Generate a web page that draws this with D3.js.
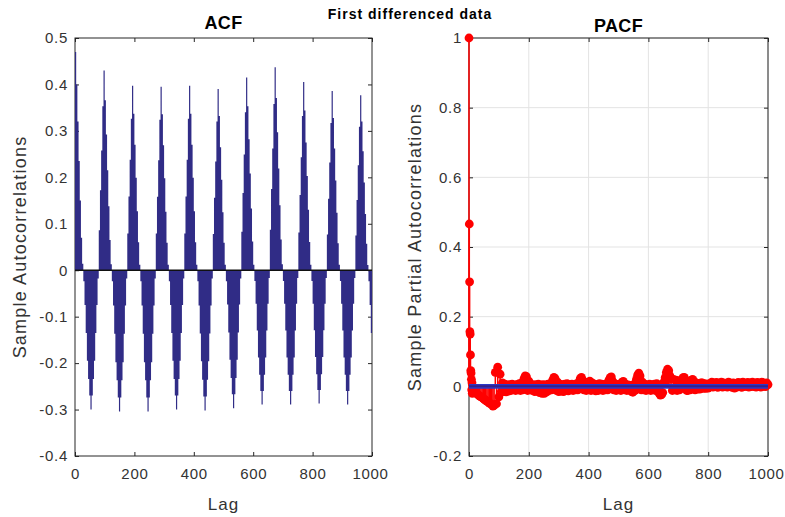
<!DOCTYPE html>
<html>
<head>
<meta charset="utf-8">
<script src="https://cdn.jsdelivr.net/npm/d3@7"></script>
<style>
  body { margin: 0; background: #fff; }
  svg { font-family: "Liberation Sans", Arial, sans-serif; }
  .tick text { fill: #333; font-size: 15px; letter-spacing: 0.7px; }
  .tick line { stroke: #262626; }
</style>
</head>
<body>
<script>
/* ACF: one value every 4 lags, lags 0..1000 */
const acfLagStep = 4;
const acfValues = [
  // lag 0
  .47,.40,.32,.235,.15,.07,.014,-.024,-.075,-.135,-.195,-.234,-.27,-.30,-.27,-.234,-.195,-.135,-.075,-.018,.086,.172,.258,.353,
  // lag 96
  .43,.366,.292,.215,.138,.065,.013,-.024,-.076,-.137,-.198,-.237,-.274,-.304,-.274,-.237,-.198,-.137,-.076,-.018,.079,.159,.238,.326,
  // lag 192
  .397,.337,.27,.199,.127,.06,.012,-.024,-.076,-.137,-.198,-.237,-.274,-.304,-.274,-.237,-.198,-.137,-.076,-.018,.079,.158,.237,.324,
  // lag 288
  .395,.336,.269,.198,.126,.059,.012,-.024,-.075,-.135,-.195,-.234,-.27,-.30,-.27,-.234,-.195,-.135,-.075,-.018,.079,.159,.238,.326,
  // lag 384
  .397,.337,.27,.199,.127,.06,.012,-.024,-.076,-.136,-.196,-.236,-.272,-.302,-.272,-.236,-.196,-.136,-.076,-.018,.078,.156,.234,.32,
  // lag 480
  .39,.332,.265,.195,.125,.059,.012,-.024,-.074,-.134,-.193,-.232,-.267,-.297,-.267,-.232,-.193,-.134,-.074,-.018,.083,.166,.249,.34,
  // lag 576
  .415,.353,.282,.208,.133,.062,.012,-.023,-.072,-.13,-.188,-.225,-.26,-.289,-.26,-.225,-.188,-.13,-.072,-.017,.087,.175,.262,.358,
  // lag 672
  .437,.371,.297,.219,.14,.066,.013,-.023,-.072,-.13,-.188,-.225,-.26,-.289,-.26,-.225,-.188,-.13,-.072,-.017,.081,.162,.243,.332,
  // lag 768
  .405,.344,.275,.203,.13,.061,.012,-.023,-.072,-.129,-.187,-.224,-.258,-.287,-.258,-.224,-.187,-.129,-.072,-.017,.077,.154,.232,.317,
  // lag 864
  .386,.328,.262,.193,.124,.058,.012,-.023,-.072,-.13,-.188,-.225,-.26,-.289,-.26,-.225,-.188,-.13,-.072,-.017,.075,.151,.226,.309,
  // lag 960
  .377,.32,.256,.189,.121,.057,.011,-.024,-.075,-.135,-.195
];

/* PACF: lags 0..11 one by one, then one value every 4 lags from lag 12 */
const pacfEarly = [1, 0.466, 0.30, 0.157, 0.15, 0.09, 0.045, 0.038, 0.02, -0.01, 0.01, -0.02];
const pacfStart = 12;
const pacfLagStep = 4;
const pacfValues = [
  -0.012,-0.015,-0.018,-0.02,-0.022,-0.025,-0.028,-0.03,-0.032,-0.035,
  -0.038,-0.04,-0.043,-0.045,-0.048,-0.05,-0.052,-0.057,-0.055,0.04,
  -0.05,0.055,-0.03,0.035,-0.015,0.01,-0.015,0.006,-0.016,0.004,
  -0.014,0.005,-0.012,0.006,-0.01,0.004,-0.012,0.005,-0.01,0.008,
  -0.012,0.01,-0.01,0.022,0.03,0.028,-0.012,0.015,-0.01,0.006,
  -0.012,0.004,-0.015,0.005,-0.014,0.006,-0.018,0.004,-0.02,0.005,
  -0.02,0.004,-0.016,0.006,-0.012,0.008,-0.01,0.018,0.026,0.022,
  -0.012,0.012,-0.015,0.006,-0.014,0.005,-0.015,0.006,-0.012,0.008,
  -0.013,0.005,-0.01,0.006,-0.012,0.004,-0.01,0.008,-0.01,0.012,
  0.022,0.026,0.018,-0.01,0.012,-0.012,0.008,-0.01,0.015,-0.012,
  0.01,-0.01,0.006,-0.013,0.005,-0.012,0.008,-0.01,0.006,-0.012,
  0.005,-0.01,0.008,-0.01,0.018,0.025,0.027,0.015,-0.01,0.008,
  -0.012,0.005,-0.01,0.006,-0.012,0.012,0.014,-0.01,0.006,-0.012,
  0.004,-0.01,0.003,-0.015,-0.017,0.006,-0.012,0.02,0.032,0.038,
  0.03,-0.01,0.012,-0.01,0.006,-0.012,0.004,-0.01,0.006,-0.012,
  0.005,-0.01,0.006,-0.012,0.008,-0.015,-0.02,-0.025,-0.024,-0.018,
  0.012,0.025,0.04,0.049,0.045,0.03,0.022,-0.012,0.02,-0.01,
  0.018,-0.012,0.015,-0.01,0.012,0.02,0.025,0.026,0.018,-0.012,
  -0.012,0.01,-0.01,0.018,0.02,0.015,-0.01,0.01,-0.008,0.008,
  -0.008,0.01,0.01,-0.006,0.008,-0.006,0.006,-0.005,0.008,0.0,
  0.012,-0.002,0.01,0.0,0.011,-0.003,0.009,0.001,0.012,-0.002,
  0.01,0.0,0.008,-0.002,0.012,-0.001,0.009,-0.003,0.01,-0.005,
  0.008,-0.002,0.011,0.0,0.01,-0.003,0.012,-0.001,0.009,0.0,
  0.011,-0.002,0.01,-0.001,0.012,0.0,0.009,-0.002,0.011,-0.001,
  0.01,-0.002,0.012,0.0,0.009,-0.001,0.01,0.005
];
const pacfBound = 0.004;

const xTicks = [0, 200, 400, 600, 800, 1000];
const acfYTicks = [-0.4, -0.3, -0.2, -0.1, 0, 0.1, 0.2, 0.3, 0.4, 0.5];
const pacfYTicks = [-0.2, 0, 0.2, 0.4, 0.6, 0.8, 1];

let width = 785, height = 517;
let acfBox = { left: 75, right: 372, top: 38, bottom: 456 };
let pacfBox = { left: 469, right: 768, top: 38, bottom: 456 };

const acfData = acfValues.map((v, i) => ({ lag: i * acfLagStep, value: v }));
const pacfData = pacfEarly.map((v, i) => ({ lag: i, value: v }))
  .concat(pacfValues.map((v, i) => ({ lag: pacfStart + i * pacfLagStep, value: v })));

let svg = d3.select("body").append("svg")
  .attr("width", width)
  .attr("height", height);

/* Escalas */
let xAcf = d3.scaleLinear().domain([0, 1000]).range([acfBox.left, acfBox.right]);
let yAcf = d3.scaleLinear().domain([-0.4, 0.5]).range([acfBox.bottom, acfBox.top]);
let xPacf = d3.scaleLinear().domain([0, 1000]).range([pacfBox.left, pacfBox.right]);
let yPacf = d3.scaleLinear().domain([-0.2, 1]).range([pacfBox.bottom, pacfBox.top]);

function fmt(d) { return String(+d.toFixed(1)); }

function drawGrid(box, x, y, yTicks) {
  let g = svg.append("g");
  g.append("g").selectAll("line").data(xTicks).join("line")
    .attr("x1", d => x(d)).attr("x2", d => x(d))
    .attr("y1", box.top).attr("y2", box.bottom)
    .attr("stroke", "#e3e3e3");
  g.append("g").selectAll("line").data(yTicks).join("line")
    .attr("x1", box.left).attr("x2", box.right)
    .attr("y1", d => y(d)).attr("y2", d => y(d))
    .attr("stroke", "#e3e3e3");
}

function drawFrame(box, x, y, yTicks) {
  let g = svg.append("g");
  g.append("g").attr("transform", "translate(0," + box.bottom + ")")
    .call(d3.axisBottom(x).tickValues(xTicks).tickSize(-4).tickPadding(12).tickFormat(d3.format("d")))
    .call(a => a.select(".domain").remove())
    // el ultimo rotulo (1000) toca el borde de la ventana
    .call(a => a.selectAll(".tick text").filter(d => d == 1000).attr("dx", -2));
  g.append("g").attr("transform", "translate(0," + box.top + ")")
    .call(d3.axisTop(x).tickValues(xTicks).tickSize(-4).tickFormat(""))
    .call(a => a.select(".domain").remove());
  g.append("g").attr("transform", "translate(" + box.left + ",0)")
    .call(d3.axisLeft(y).tickValues(yTicks).tickSize(-4).tickPadding(7).tickFormat(fmt))
    .call(a => a.select(".domain").remove());
  g.append("g").attr("transform", "translate(" + box.right + ",0)")
    .call(d3.axisRight(y).tickValues(yTicks).tickSize(-4).tickFormat(""))
    .call(a => a.select(".domain").remove());
  g.selectAll(".tick text").attr("font-family", null).attr("font-size", null);
  g.append("rect")
    .attr("x", box.left).attr("y", box.top)
    .attr("width", box.right - box.left).attr("height", box.bottom - box.top)
    .attr("fill", "none").attr("stroke", "#262626").attr("stroke-width", 1);
}

/* ACF */
drawFrame(acfBox, xAcf, yAcf, acfYTicks);

svg.append("clipPath").attr("id", "clipAcf").append("rect")
  .attr("x", acfBox.left).attr("y", acfBox.top)
  .attr("width", acfBox.right - acfBox.left).attr("height", acfBox.bottom - acfBox.top);

let acfArea = d3.area()
  .x(d => xAcf(d.lag))
  .y0(yAcf(0))
  .y1(d => yAcf(d.value))
  .curve(d3.curveStepAfter);

svg.append("path")
  .attr("clip-path", "url(#clipAcf)")
  .datum(acfData.concat([{ lag: 1004, value: acfData[acfData.length - 1].value }]))
  .attr("d", acfArea)
  .attr("fill", "#302c86");

svg.append("line")
  .attr("x1", acfBox.left).attr("x2", acfBox.right)
  .attr("y1", yAcf(0)).attr("y2", yAcf(0))
  .attr("stroke", "#111").attr("stroke-width", 1.5);

/* PACF */
drawGrid(pacfBox, xPacf, yPacf, pacfYTicks);
drawFrame(pacfBox, xPacf, yPacf, pacfYTicks);

let gp = svg.append("g");
gp.selectAll("line.stem").data(pacfData).join("line")
  .attr("class", "stem")
  .attr("x1", d => xPacf(d.lag)).attr("x2", d => xPacf(d.lag))
  .attr("y1", yPacf(0)).attr("y2", d => yPacf(d.value))
  .attr("stroke", "#ff0000").attr("stroke-width", 1.5);
gp.selectAll("circle").data(pacfData).join("circle")
  .attr("cx", d => xPacf(d.lag)).attr("cy", d => yPacf(d.value))
  .attr("r", 4.4).attr("fill", "#ff0000");

gp.selectAll("line.bound").data([pacfBound, -pacfBound]).join("line")
  .attr("class", "bound")
  .attr("x1", pacfBox.left).attr("x2", pacfBox.right)
  .attr("y1", d => yPacf(d)).attr("y2", d => yPacf(d))
  .attr("stroke", "#2b38c8").attr("stroke-width", 2);
gp.append("line")
  .attr("x1", pacfBox.left).attr("x2", pacfBox.right)
  .attr("y1", yPacf(0)).attr("y2", yPacf(0))
  .attr("stroke", "#36208a").attr("stroke-width", 2);

/* Textos */
function label(x, y, txt, size, weight, rot, spacing) {
  let t = svg.append("text")
    .attr("text-anchor", "middle")
    .attr("font-size", size + "px")
    .attr("font-weight", weight)
    .attr("letter-spacing", spacing + "px")
    .attr("fill", weight == "bold" ? "#000" : "#333")
    .text(txt);
  if (rot) t.attr("transform", "translate(" + x + "," + y + ") rotate(-90)");
  else t.attr("x", x).attr("y", y);
}

label((acfBox.left + acfBox.right) / 2, 29, "ACF", 18, "bold", false, 0.3);
label((pacfBox.left + pacfBox.right) / 2, 32, "PACF", 18, "bold", false, 0.3);
label(410, 19, "First differenced data", 14, "bold", false, 1);
label((acfBox.left + acfBox.right) / 2, 510, "Lag", 17, "normal", false, 1);
label((pacfBox.left + pacfBox.right) / 2, 510, "Lag", 17, "normal", false, 1);
label(26, (acfBox.top + acfBox.bottom) / 2, "Sample Autocorrelations", 18, "normal", true, 1.2);
label(421, (pacfBox.top + pacfBox.bottom) / 2, "Sample Partial Autocorrelations", 18, "normal", true, 1.2);
</script>
</body>
</html>
